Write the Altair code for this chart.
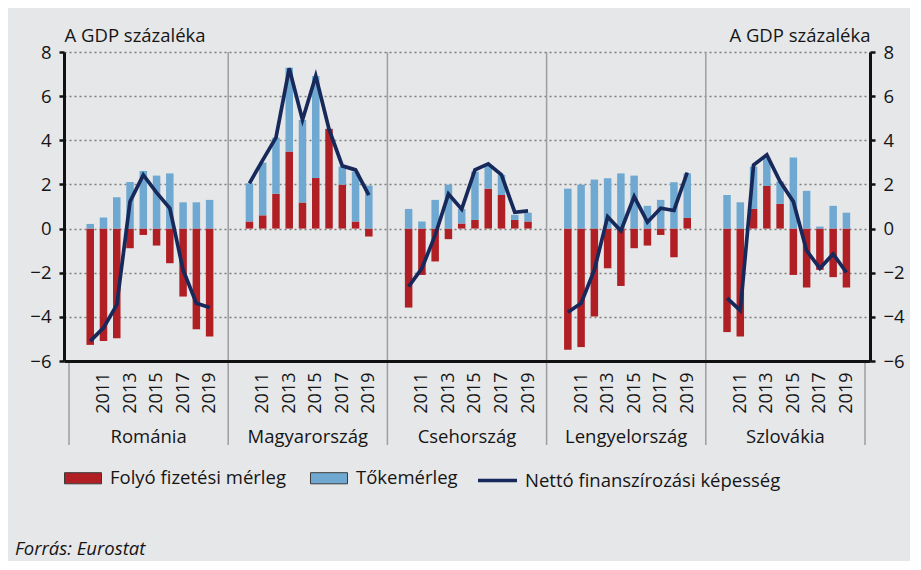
import altair as alt
import pandas as pd

# ---------------- data ----------------
countries = ["Románia", "Magyarország", "Csehország", "Lengyelország", "Szlovákia"]
years = list(range(2010, 2020))

series_names = ["Folyó fizetési mérleg", "Tőkemérleg", "Nettó finanszírozási képesség"]

# Folyó fizetési mérleg (current account), % of GDP
ca_ro = [-5.27, -5.09, -4.97, -0.89, -0.29, -0.77, -1.57, -3.08, -4.56, -4.89]
ca_hu = [0.32, 0.60, 1.58, 3.49, 1.18, 2.29, 4.51, 1.99, 0.32, -0.36]
ca_cz = [-3.58, -2.10, -1.49, -0.48, 0.23, 0.39, 1.81, 1.52, 0.39, 0.32]
ca_pl = [-5.49, -5.37, -3.98, -1.80, -2.60, -0.89, -0.77, -0.29, -1.30, 0.48]
ca_sk = [-4.69, -4.89, 0.89, 1.93, 1.12, -2.10, -2.67, -1.87, -2.20, -2.67]

# Tőkemérleg (capital account), % of GDP
ka_ro = [0.21, 0.50, 1.42, 2.11, 2.61, 2.40, 2.50, 1.19, 1.19, 1.30]
ka_hu = [1.73, 2.39, 2.54, 3.80, 3.74, 4.62, 0.02, 0.82, 2.26, 1.95]
ka_cz = [0.89, 0.32, 1.30, 1.99, 0.66, 2.19, 1.07, 0.91, 0.23, 0.40]
ka_pl = [1.81, 1.99, 2.22, 2.28, 2.50, 2.40, 1.03, 1.30, 2.10, 2.02]
ka_sk = [1.52, 1.19, 1.92, 1.25, 1.01, 3.22, 1.71, 0.09, 1.03, 0.72]

# Nettó finanszírozási képesség (net lending), % of GDP
nl_ro = [-5.10, -4.50, -3.46, 1.22, 2.43, 1.63, 0.92, -1.87, -3.38, -3.58]
nl_hu = [2.05, 3.10, 4.12, 7.26, 4.92, 6.91, 4.50, 2.84, 2.66, 1.52]
nl_cz = [-2.63, -1.80, -0.30, 1.57, 0.88, 2.66, 2.93, 2.43, 0.74, 0.80]
nl_pl = [-3.79, -3.38, -1.87, 0.54, -0.10, 1.45, 0.29, 0.92, 0.82, 2.54]
nl_sk = [-3.15, -3.71, 2.88, 3.34, 2.13, 1.22, -1.00, -1.80, -1.15, -1.99]

y_ticks = [-6, -4, -2, 0, 2, 4, 6, 8]
y_title = "A GDP százaléka"
source_note = "Forrás: Eurostat"

# ---------------- layout / style ----------------
GROUP = 12          # slots per country group (10 years + gaps)
OFFSET = 1.6        # slot offset of the first bar inside a group
W, H = 806, 309
FONT = "Open Sans"
FS = 18.5
FS_YEAR = 18
RED, BLUE, NAVY = "#b01f24", "#6fa9d1", "#17295a"
BG = "#e6e7e9"
TXT = "#151515"

ca_all = [ca_ro, ca_hu, ca_cz, ca_pl, ca_sk]
ka_all = [ka_ro, ka_hu, ka_cz, ka_pl, ka_sk]
nl_all = [nl_ro, nl_hu, nl_cz, nl_pl, nl_sk]

bar_rows, line_rows = [], []
for g, c in enumerate(countries):
    for i, yr in enumerate(years):
        pos = g * GROUP + OFFSET + i
        bar_rows.append({"country": c, "year": yr, "pos": pos, "series": series_names[0],
                         "ord": 0, "value": ca_all[g][i]})
        bar_rows.append({"country": c, "year": yr, "pos": pos, "series": series_names[1],
                         "ord": 1, "value": ka_all[g][i]})
        line_rows.append({"country": c, "year": yr, "pos": pos, "series": series_names[2],
                          "value": nl_all[g][i]})
bars_df = pd.DataFrame(bar_rows)
line_df = pd.DataFrame(line_rows)

odd_positions = [g * GROUP + OFFSET + i for g in range(len(countries))
                 for i, yr in enumerate(years) if yr % 2 == 1]

bounds = [g * GROUP for g in range(len(countries) + 1)]
sep_df = pd.DataFrame({"pos": bounds,
                       "edge": [b in (bounds[0], bounds[-1]) for b in bounds]})
lab_df = pd.DataFrame({"pos": [g * GROUP + GROUP / 2 for g in range(len(countries))],
                       "country": countries})

xscale = alt.Scale(domain=[bounds[0], bounds[-1]], nice=False, zero=False)
yscale = alt.Scale(domain=[y_ticks[0], y_ticks[-1]], nice=False, zero=False)

common_axis = dict(values=y_ticks, domainColor="#111", domainWidth=3, tickColor="#111",
                   tickWidth=2.5, tickSize=5, labelFontSize=FS, labelPadding=8,
                   labelColor=TXT, title=y_title, titleAngle=0, titleX=0, titleY=-11,
                   titleBaseline="alphabetic", titleFontSize=FS, titleFontWeight="normal",
                   titleColor=TXT, zindex=0)

left_axis = alt.Axis(orient="left", titleAlign="left", grid=True, gridDash=[2, 3],
                     gridColor="#7d7d7d", gridWidth=1.3, **common_axis)
right_axis = alt.Axis(orient="right", titleAlign="right", grid=False, **common_axis)

x_axis = alt.Axis(values=odd_positions,
                  labelExpr=f"toString(2010 + round((datum.value - {OFFSET}) % {GROUP}))",
                  labelAngle=-90, labelFontSize=FS_YEAR, labelColor=TXT, labelPadding=11,
                  ticks=False, grid=False, domainColor="#111", domainWidth=3,
                  title=None, zindex=1, labelOverlap=False)

X = alt.X("pos:Q", scale=xscale, axis=x_axis)

# separators between the country groups (extend down through labels)
seps_inner = alt.Chart(sep_df).transform_filter("!datum.edge").mark_rule(
    color="#9c9ea1", strokeWidth=1.5).encode(
    x=X, y=alt.value(0), y2=alt.value(H + 84))
seps_edge = alt.Chart(sep_df).transform_filter("datum.edge").mark_rule(
    color="#9c9ea1", strokeWidth=1.5).encode(
    x=X, y=alt.value(H), y2=alt.value(H + 84))

bars = alt.Chart(bars_df).mark_bar(size=7.5).encode(
    x=X,
    y=alt.Y("value:Q", stack="zero", scale=yscale, axis=left_axis),
    fill=alt.Fill("series:N",
                  scale=alt.Scale(domain=series_names[:2], range=[RED, BLUE]),
                  legend=alt.Legend(title=None, orient="none", legendX=0, legendY=407,
                                    direction="horizontal",
                                    symbolType="M-1,-0.3H1V0.3H-1Z", symbolSize=1369,
                                    symbolStrokeColor="#3a3a3a", symbolStrokeWidth=1,
                                    labelFontSize=FS, labelColor=TXT, labelOffset=8,
                                    columnPadding=22, labelLimit=400)),
    order=alt.Order("ord:Q"),
)

line = alt.Chart(line_df).mark_line(strokeWidth=3.7, strokeJoin="miter").encode(
    x=X,
    y=alt.Y("value:Q", scale=yscale, axis=right_axis),
    detail="country:N",
    stroke=alt.Stroke("series:N",
                      scale=alt.Scale(domain=series_names[2:], range=[NAVY]),
                      legend=alt.Legend(title=None, orient="none", legendX=412,
                                        legendY=407, symbolType="stroke",
                                        symbolSize=1521, symbolStrokeWidth=3.7,
                                        labelFontSize=FS, labelColor=TXT,
                                        labelOffset=6, labelLimit=400)),
)

country_labels = alt.Chart(lab_df).mark_text(fontSize=FS, color=TXT, baseline="middle").encode(
    x=X,
    y=alt.value(H + 76),
    text="country:N",
)

chart = alt.layer(seps_inner, seps_edge, bars, line, country_labels).resolve_axis(
    y="independent"
).properties(
    width=W, height=H,
    autosize=alt.AutoSizeParams(type="none"),
    padding={"left": 56, "top": 44, "right": 40, "bottom": 200},
    background=BG,
    title=alt.TitleParams(source_note, orient="bottom", anchor="start", frame="group",
                          dx=-49, offset=50, fontSize=FS, fontStyle="italic",
                          fontWeight="normal", color=TXT, font=FONT),
).configure(font=FONT).configure_view(stroke=None)

chart.save("out.html", embed_options={"renderer": "svg", "actions": False})
